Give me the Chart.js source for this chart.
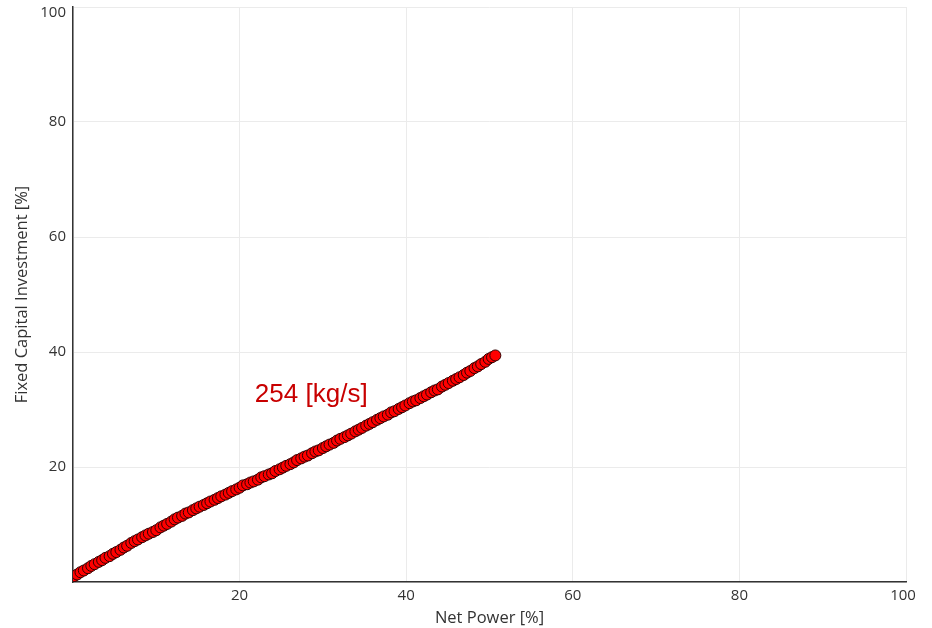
<!DOCTYPE html>
<html>
<head>
<meta charset="utf-8">
<title>Fixed Capital Investment vs Net Power</title>
<script src="https://cdn.jsdelivr.net/npm/chart.js@4"></script>
<style>
  html, body { margin: 0; padding: 0; background: #fff; }
  #wrap { width: 932px; height: 628px; position: relative; }
</style>
</head>
<body>
<div id="wrap"><canvas id="myChart"></canvas></div>
<script>
'use strict';

// values
let netPower = [
  0.1, 0.5, 0.9, 1.3, 1.8, 2.2, 2.6, 3.1, 3.5, 3.9,
  4.4, 4.8, 5.2, 5.7, 6.1, 6.5, 7.0, 7.4, 7.8, 8.3,
  8.7, 9.1, 9.6, 10.0, 10.5, 10.9, 11.3, 11.8, 12.2, 12.6,
  13.1, 13.5, 13.9, 14.4, 14.8, 15.2, 15.7, 16.1, 16.5, 17.0,
  17.4, 17.8, 18.3, 18.7, 19.1, 19.6, 20.0, 20.4, 20.9, 21.3,
  21.7, 22.2, 22.6, 23.0, 23.5, 23.9, 24.3, 24.8, 25.2, 25.6,
  26.1, 26.5, 26.9, 27.4, 27.8, 28.2, 28.7, 29.1, 29.5, 30.0,
  30.4, 30.8, 31.3, 31.7, 32.1, 32.6, 33.0, 33.4, 33.9, 34.3,
  34.7, 35.2, 35.6, 36.0, 36.5, 36.9, 37.3, 37.8, 38.2, 38.6,
  39.1, 39.5, 39.9, 40.4, 40.8, 41.2, 41.7, 42.1, 42.5, 43.0,
  43.4, 43.8, 44.3, 44.7, 45.1, 45.6, 46.0, 46.4, 46.9, 47.3,
  47.7, 48.2, 48.6, 49.0, 49.5, 49.9, 50.3, 50.7
];
let capitalInvestment = [
  1.0, 1.3, 1.7, 2.0, 2.4, 2.8, 3.1, 3.5, 3.8, 4.2,
  4.5, 4.9, 5.2, 5.6, 6.0, 6.3, 6.8, 7.1, 7.4, 7.8,
  8.1, 8.4, 8.7, 9.0, 9.5, 9.8, 10.1, 10.5, 10.9, 11.2,
  11.5, 11.9, 12.1, 12.5, 12.8, 13.1, 13.4, 13.7, 14.0, 14.3,
  14.6, 14.9, 15.2, 15.5, 15.8, 16.1, 16.4, 16.8, 17.0, 17.3,
  17.5, 17.8, 18.2, 18.4, 18.7, 18.9, 19.3, 19.6, 19.9, 20.2,
  20.5, 20.8, 21.2, 21.5, 21.8, 22.0, 22.4, 22.7, 22.9, 23.3,
  23.6, 23.9, 24.2, 24.6, 24.9, 25.2, 25.5, 25.8, 26.2, 26.5,
  26.8, 27.2, 27.5, 27.8, 28.2, 28.5, 28.8, 29.1, 29.5, 29.7,
  30.1, 30.4, 30.7, 31.1, 31.4, 31.6, 32.0, 32.3, 32.6, 33.0,
  33.3, 33.5, 34.0, 34.3, 34.6, 35.0, 35.3, 35.6, 36.0, 36.4,
  36.7, 37.2, 37.5, 37.9, 38.3, 38.8, 39.1, 39.4
];
let tickValues = [20, 40, 60, 80, 100];
let seriesLabel = '254 [kg/s]';
let labelPos = [28.6, 32.6];

let fontName = '"Open Sans", "Noto Sans", sans-serif';

let points = [];
for (let i = 0; i < netPower.length; i++) {
  points.push({ x: netPower[i], y: capitalInvestment[i] });
}

// keep the end labels ("100") inside the plot edge like the original
let edgeLabels = {
  id: 'edgeLabels',
  beforeDraw(chart) {
    let yItems = chart.scales.y.getLabelItems();
    let xItems = chart.scales.x.getLabelItems();
    yItems.forEach(function (item) {
      if (item.label === 100) item.options.translation[1] += 6;
    });
    xItems.forEach(function (item) {
      if (item.label === 100) item.options.translation[0] -= 3;
    });
  }
};

// writes the series label inside the plot
let seriesText = {
  id: 'seriesText',
  afterDatasetsDraw(chart) {
    let ctx = chart.ctx;
    let px = chart.scales.x.getPixelForValue(labelPos[0]);
    let py = chart.scales.y.getPixelForValue(labelPos[1]);
    ctx.save();
    ctx.font = '26px "Liberation Sans", Arial, sans-serif';
    ctx.fillStyle = '#c80000';
    ctx.textAlign = 'center';
    ctx.textBaseline = 'middle';
    ctx.fillText(seriesLabel, px, py);
    ctx.restore();
  }
};

function showTick(value) {
  return tickValues.includes(value) ? value : '';
}

let config = {
  type: 'scatter',
  data: {
    datasets: [{
      label: seriesLabel,
      data: points,
      backgroundColor: '#ff0000',
      borderColor: '#300000',
      borderWidth: 1,
      pointRadius: 5.5,
      pointHoverRadius: 5.5
    }]
  },
  options: {
    responsive: true,
    maintainAspectRatio: false,
    animation: false,
    layout: { padding: { top: 7, right: 26, left: 0, bottom: 0 } },
    plugins: {
      legend: { display: false },
      tooltip: { enabled: false }
    },
    scales: {
      x: {
        type: 'linear',
        min: 0,
        max: 100,
        afterFit(axis) { axis.height = 46; },
        border: { color: '#333', width: 1.5 },
        grid: { color: '#ebebeb', drawTicks: false },
        ticks: {
          stepSize: 20,
          padding: 5,
          color: '#333',
          font: { family: fontName, size: 15 },
          callback: showTick
        },
        title: {
          display: true,
          text: 'Net Power [%]',
          color: '#333',
          padding: { top: 0, bottom: 0 },
          font: { family: fontName, size: 16.5 }
        }
      },
      y: {
        type: 'linear',
        min: 0,
        max: 100,
        afterFit(axis) {
          axis.width = 73;
          axis.paddingTop = 0;
        },
        border: { color: '#333', width: 1.5 },
        grid: { color: '#ebebeb', drawTicks: false },
        ticks: {
          stepSize: 20,
          padding: 7,
          color: '#333',
          font: { family: fontName, size: 15 },
          callback: showTick
        },
        title: {
          display: true,
          text: 'Fixed Capital Investment [%]',
          color: '#333',
          padding: { top: 12, bottom: 0 },
          font: { family: fontName, size: 16.5 }
        }
      }
    }
  },
  plugins: [edgeLabels, seriesText]
};

let myChart = new Chart(document.getElementById('myChart'), config);
</script>
</body>
</html>
